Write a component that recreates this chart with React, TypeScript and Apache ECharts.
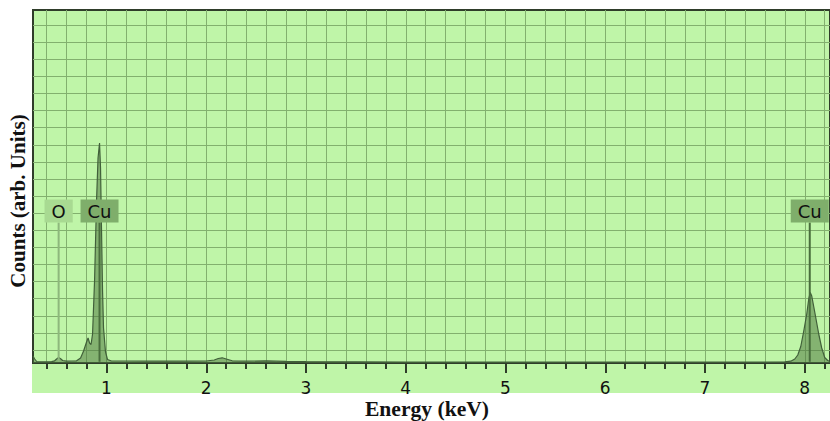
import React, { useEffect, useRef } from 'react';
import * as echarts from 'echarts';

// EDS spectrum: energy (keV) against detector counts
const energyKeV = [
  0.263, 0.28, 0.3, 0.35, 0.4, 0.45, 0.48, 0.5, 0.52, 0.54, 0.56, 0.6, 0.65, 0.7,
  0.74, 0.77, 0.8, 0.815, 0.83, 0.845, 0.86, 0.88, 0.9, 0.915, 0.93, 0.94, 0.95,
  0.96, 0.97, 0.99, 1.01, 1.05, 1.2, 1.4, 1.6, 1.8, 2.0, 2.08, 2.12, 2.16, 2.2,
  2.26, 2.4, 2.6, 2.8, 3.0, 3.5, 4.0, 4.5, 5.0, 5.5, 6.0, 6.5, 7.0, 7.5, 7.8,
  7.86, 7.9, 7.93, 7.96, 7.99, 8.02, 8.04, 8.055, 8.07, 8.1, 8.14, 8.17, 8.2,
  8.23, 8.253,
];
const counts = [
  70, 40, 15, 12, 12, 14, 22, 40, 55, 42, 25, 18, 20, 22,
  50, 120, 210, 250, 200, 185, 290, 820, 1620, 2050, 2200, 1950, 1330,
  730, 350, 110, 35, 20, 20, 18, 20, 18, 20, 30, 45, 52, 40,
  22, 18, 22, 16, 14, 12, 10, 10, 9, 8, 8, 8, 8, 8, 12,
  18, 40, 80, 165, 320, 490, 640, 705, 670, 510, 290, 150, 55,
  25, 15,
];

// Identified element lines
const markerNames = ['O', 'Cu', 'Cu'];
const markerEnergies = [0.52, 0.93, 8.05];

// Axis ticks
const majorTicks = [1, 2, 3, 4, 5, 6, 7, 8];
const minorTicks = Array.from({ length: 40 }, (_, i) => +(0.4 + 0.2 * i).toFixed(1));
const countGridLines = Array.from({ length: 20 }, (_, i) => 130 + 171 * i);

const X_MIN = 0.263;
const X_MAX = 8.253;
const Y_MAX = 3530;
const LABEL_LEVEL = 1405;

const PLOT_BG = '#bff5a8';
const GRID_LINE = '#82b06e';
const DARK = '#2f3d2a';
const markerStyle: Record<string, { box: string; line: string }> = {
  O: { box: '#a8da92', line: '#8db87c' },
  Cu: { box: '#7fae6b', line: '#496e3d' },
};

export default function App() {
  const ref = useRef<HTMLDivElement>(null);

  useEffect(() => {
    if (!ref.current) return;
    const chart = echarts.init(ref.current, null, { renderer: 'svg' });

    const spectrum = energyKeV.map((e, i) => [e, counts[i]]);
    const markers = markerEnergies.map((e) => [e, LABEL_LEVEL]);

    chart.setOption({
      animation: false,
      grid: {
        left: 33,
        top: 10,
        right: -2,
        bottom: 58,
        show: true,
        backgroundColor: PLOT_BG,
        borderColor: DARK,
        borderWidth: 2,
      },
      xAxis: [
        {
          type: 'value',
          min: X_MIN,
          max: X_MAX,
          position: 'bottom',
          axisLine: { show: true, onZero: false, lineStyle: { color: DARK, width: 2 } },
          axisTick: { show: true, customValues: minorTicks, length: 6, lineStyle: { color: DARK, width: 2 } },
          axisLabel: { show: false },
          splitLine: { show: true, lineStyle: { color: GRID_LINE, width: 1 } },
        },
        {
          type: 'value',
          min: X_MIN,
          max: X_MAX,
          position: 'bottom',
          axisLine: { show: false, onZero: false },
          axisTick: { show: true, customValues: majorTicks, length: 10, lineStyle: { color: DARK, width: 2 } },
          axisLabel: {
            show: true,
            customValues: majorTicks,
            margin: 16,
            fontFamily: 'DejaVu Sans',
            fontSize: 17,
            color: '#111',
          },
          splitLine: { show: false },
        },
      ],
      yAxis: {
        type: 'value',
        min: 0,
        max: Y_MAX,
        axisLine: { show: false },
        axisTick: { show: false, customValues: countGridLines },
        axisLabel: { show: false, customValues: countGridLines },
        splitLine: { show: true, lineStyle: { color: GRID_LINE, width: 1 } },
      },
      graphic: [
        {
          type: 'rect',
          z: -1,
          shape: { x: 32, y: 364, width: 800, height: 29 },
          style: { fill: PLOT_BG },
        },
        {
          type: 'text',
          x: 427,
          y: 409,
          scaleX: 1.08,
          style: {
            text: 'Energy (keV)',
            fontFamily: 'Liberation Serif',
            fontWeight: 'bold',
            fontSize: 20,
            fill: '#111',
            align: 'center',
            verticalAlign: 'middle',
          },
        },
        {
          type: 'text',
          x: 17.5,
          y: 201,
          rotation: Math.PI / 2,
          style: {
            text: 'Counts (arb. Units)',
            fontFamily: 'Liberation Serif',
            fontWeight: 'bold',
            fontSize: 21,
            fill: '#111',
            align: 'center',
            verticalAlign: 'middle',
          },
        },
      ],
      series: [
        {
          type: 'line',
          xAxisIndex: 0,
          data: spectrum,
          showSymbol: false,
          z: 2,
          lineStyle: { color: '#41603a', width: 1.2 },
          areaStyle: { color: 'rgba(78,120,62,0.75)' },
        },
        {
          type: 'custom',
          xAxisIndex: 0,
          z: 3,
          data: markers,
          renderItem: (params: any, api: any) => {
            const name = markerNames[params.dataIndex];
            const st = markerStyle[name];
            const e = api.value(0);
            const base = api.coord([e, 12]);
            const top = api.coord([e, api.value(1)]);
            return {
              type: 'group',
              children: [
                {
                  type: 'line',
                  shape: { x1: base[0], y1: base[1], x2: top[0], y2: top[1] },
                  style: { stroke: st.line, lineWidth: 2 },
                },
                {
                  type: 'text',
                  x: top[0],
                  y: top[1],
                  style: {
                    text: name,
                    fontFamily: 'DejaVu Sans',
                    fontSize: 18,
                    lineHeight: 18,
                    fill: '#111',
                    align: 'center',
                    verticalAlign: 'bottom',
                    backgroundColor: st.box,
                    padding: [2.5, 7, 2.5, 7],
                  },
                },
              ],
            };
          },
        },
      ],
    });

    return () => chart.dispose();
  }, []);

  return (
    <div
      ref={ref}
      style={{ position: 'absolute', left: 0, top: 0, width: 830, height: 421, background: '#fff' }}
    />
  );
}
